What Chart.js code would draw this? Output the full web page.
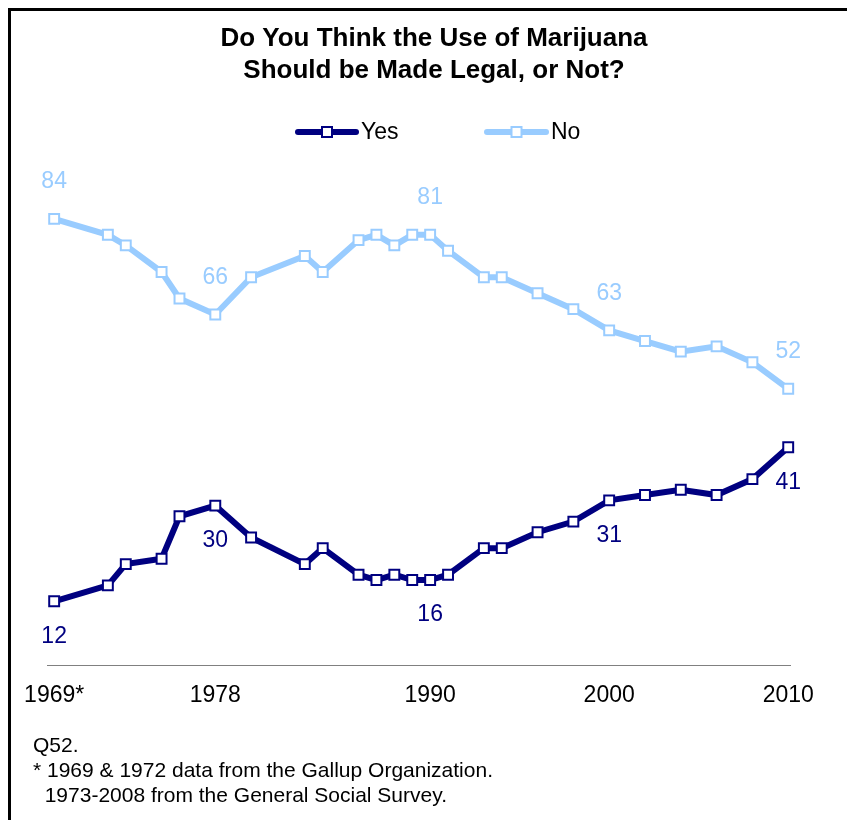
<!DOCTYPE html>
<html>
<head>
<meta charset="utf-8">
<script src="https://cdn.jsdelivr.net/npm/chart.js@4.4.1/dist/chart.umd.min.js"></script>
<style>
  html, body { margin: 0; padding: 0; background: #fff; }
  #wrap { position: relative; width: 847px; height: 820px; }
</style>
</head>
<body>
<div id="wrap"><canvas id="marijuana" width="847" height="820"></canvas></div>
<script>
const years = [1969, 1972, 1973, 1975, 1976, 1978, 1980, 1983, 1984, 1986, 1987, 1988, 1989,
               1990, 1991, 1993, 1994, 1996, 1998, 2000, 2002, 2004, 2006, 2008, 2010]
const yesValues = [12, 15, 19, 20, 28, 30, 24, 19, 22, 17, 16, 17, 16,
                   16, 17, 22, 22, 25, 27, 31, 32, 33, 32, 35, 41]
const noValues = [84, 81, 79, 74, 69, 66, 73, 77, 74, 80, 81, 79, 81,
                  81, 78, 73, 73, 70, 67, 63, 61, 59, 60, 57, 52]
const tickYears = [1969, 1978, 1990, 2000, 2010]
const labelYears = [1969, 1978, 1990, 2000, 2010]

const yesColor = '#000080'
const noColor = '#99ccff'
const font = '"Liberation Sans", Arial, sans-serif'

const toPoints = values => years.map((year, i) => ({ x: year, y: values[i] }))

// title, legend, value labels, notes and frame
const decorations = {
    id: 'decorations',
    afterDraw(chart) {
        const ctx = chart.ctx
        ctx.save()

        // frame
        ctx.fillStyle = '#000'
        ctx.fillRect(8, 8, 839, 3)
        ctx.fillRect(8, 8, 3, 812)

        // title
        ctx.fillStyle = '#000'
        ctx.textAlign = 'center'
        ctx.textBaseline = 'middle'
        ctx.font = 'bold 26px ' + font
        ctx.fillText('Do You Think the Use of Marijuana', 434, 39)
        ctx.fillText('Should be Made Legal, or Not?', 434, 71)

        // legend
        const legendItems = [
            { text: 'Yes', color: yesColor, x0: 298, x1: 356 },
            { text: 'No', color: noColor, x0: 487, x1: 546 }
        ]
        legendItems.forEach(item => {
            ctx.strokeStyle = item.color
            ctx.lineWidth = 6
            ctx.lineCap = 'round'
            ctx.beginPath()
            ctx.moveTo(item.x0, 132)
            ctx.lineTo(item.x1, 132)
            ctx.stroke()
            const mx = (item.x0 + item.x1) / 2
            ctx.fillStyle = '#fff'
            ctx.lineWidth = 2
            ctx.fillRect(mx - 5, 127, 10, 10)
            ctx.strokeRect(mx - 5, 127, 10, 10)
            ctx.fillStyle = '#000'
            ctx.textAlign = 'left'
            ctx.font = '23px ' + font
            ctx.fillText(item.text, item.x1 + 5, 133)
        })

        // value labels
        ctx.textAlign = 'center'
        ctx.font = '23px ' + font
        const xScale = chart.scales.x
        const yScale = chart.scales.y
        labelYears.forEach(year => {
            const i = years.indexOf(year)
            const px = xScale.getPixelForValue(year)
            ctx.fillStyle = noColor
            ctx.fillText(String(noValues[i]), px, yScale.getPixelForValue(noValues[i]) - 37)
            ctx.fillStyle = yesColor
            ctx.fillText(String(yesValues[i]), px, yScale.getPixelForValue(yesValues[i]) + 35)
        })

        // notes
        ctx.fillStyle = '#000'
        ctx.textAlign = 'left'
        ctx.font = '21px ' + font
        ctx.fillText('Q52.', 33, 746)
        ctx.fillText('* 1969 & 1972 data from the Gallup Organization.', 33, 771)
        ctx.fillText('  1973-2008 from the General Social Survey.', 33, 796)

        ctx.restore()
    }
}

const seriesStyle = color => ({
    borderColor: color,
    borderWidth: 6,
    pointStyle: 'rect',
    pointRadius: 7,
    pointBorderWidth: 2,
    pointBackgroundColor: '#fff',
    pointBorderColor: color,
    tension: 0,
    clip: false
})

new Chart(document.getElementById('marijuana'), {
    type: 'line',
    data: {
        datasets: [
            { label: 'No', data: toPoints(noValues), ...seriesStyle(noColor) },
            { label: 'Yes', data: toPoints(yesValues), ...seriesStyle(yesColor) }
        ]
    },
    options: {
        responsive: false,
        animation: false,
        layout: { padding: { left: 47, right: 57, top: 187, bottom: 95 } },
        plugins: {
            legend: { display: false },
            title: { display: false },
            tooltip: { enabled: false }
        },
        scales: {
            x: {
                type: 'linear',
                min: 1968.6,
                max: 2010.1,
                afterBuildTicks: scale => {
                    scale.ticks = tickYears.map(v => ({ value: v }))
                },
                afterFit: scale => { scale.height = 60 },
                grid: { display: false, drawTicks: false },
                border: { display: true, color: '#808080', width: 1 },
                ticks: {
                    padding: 17,
                    maxRotation: 0,
                    autoSkip: false,
                    color: '#000',
                    font: { family: font, size: 23 },
                    callback: v => v === 1969 ? '1969*' : String(v)
                }
            },
            y: {
                display: false,
                min: 0,
                max: 90
            }
        }
    },
    plugins: [decorations]
});
</script>
</body>
</html>
